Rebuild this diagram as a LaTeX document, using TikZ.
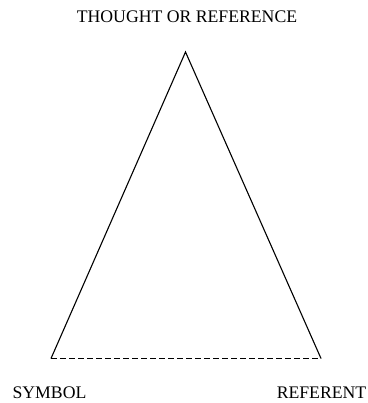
\documentclass[tikz,border=0pt]{standalone}
\usepackage{fontspec}
\setmainfont{Liberation Serif}
\usetikzlibrary{positioning}

\begin{document}
\begin{tikzpicture}[x=1pt, y=-1pt, font=\fontsize{17.7}{20}\selectfont, line width=1.1pt,
    cornertext/.style={anchor=base, inner sep=0pt}]
          \useasboundingbox (0,0) rectangle (367,403);
          \coordinate (apex) at (185.5,52);
          \coordinate (sym) at (51,358.5);
          \coordinate (ref) at (321,358.5);
          \node[cornertext] (thought) at (187,22.5) {THOUGHT OR REFERENCE};
          \node[cornertext] (symbol) at (49.5,398.5) {SYMBOL};
          \node[cornertext] (referent) at (321.5,398.5) {REFERENT};
          \draw (sym) -- (apex) -- (ref);
          \draw[dash pattern=on 5.5pt off 3.5pt] (sym) -- (ref);
        \end{tikzpicture}
\end{document}
